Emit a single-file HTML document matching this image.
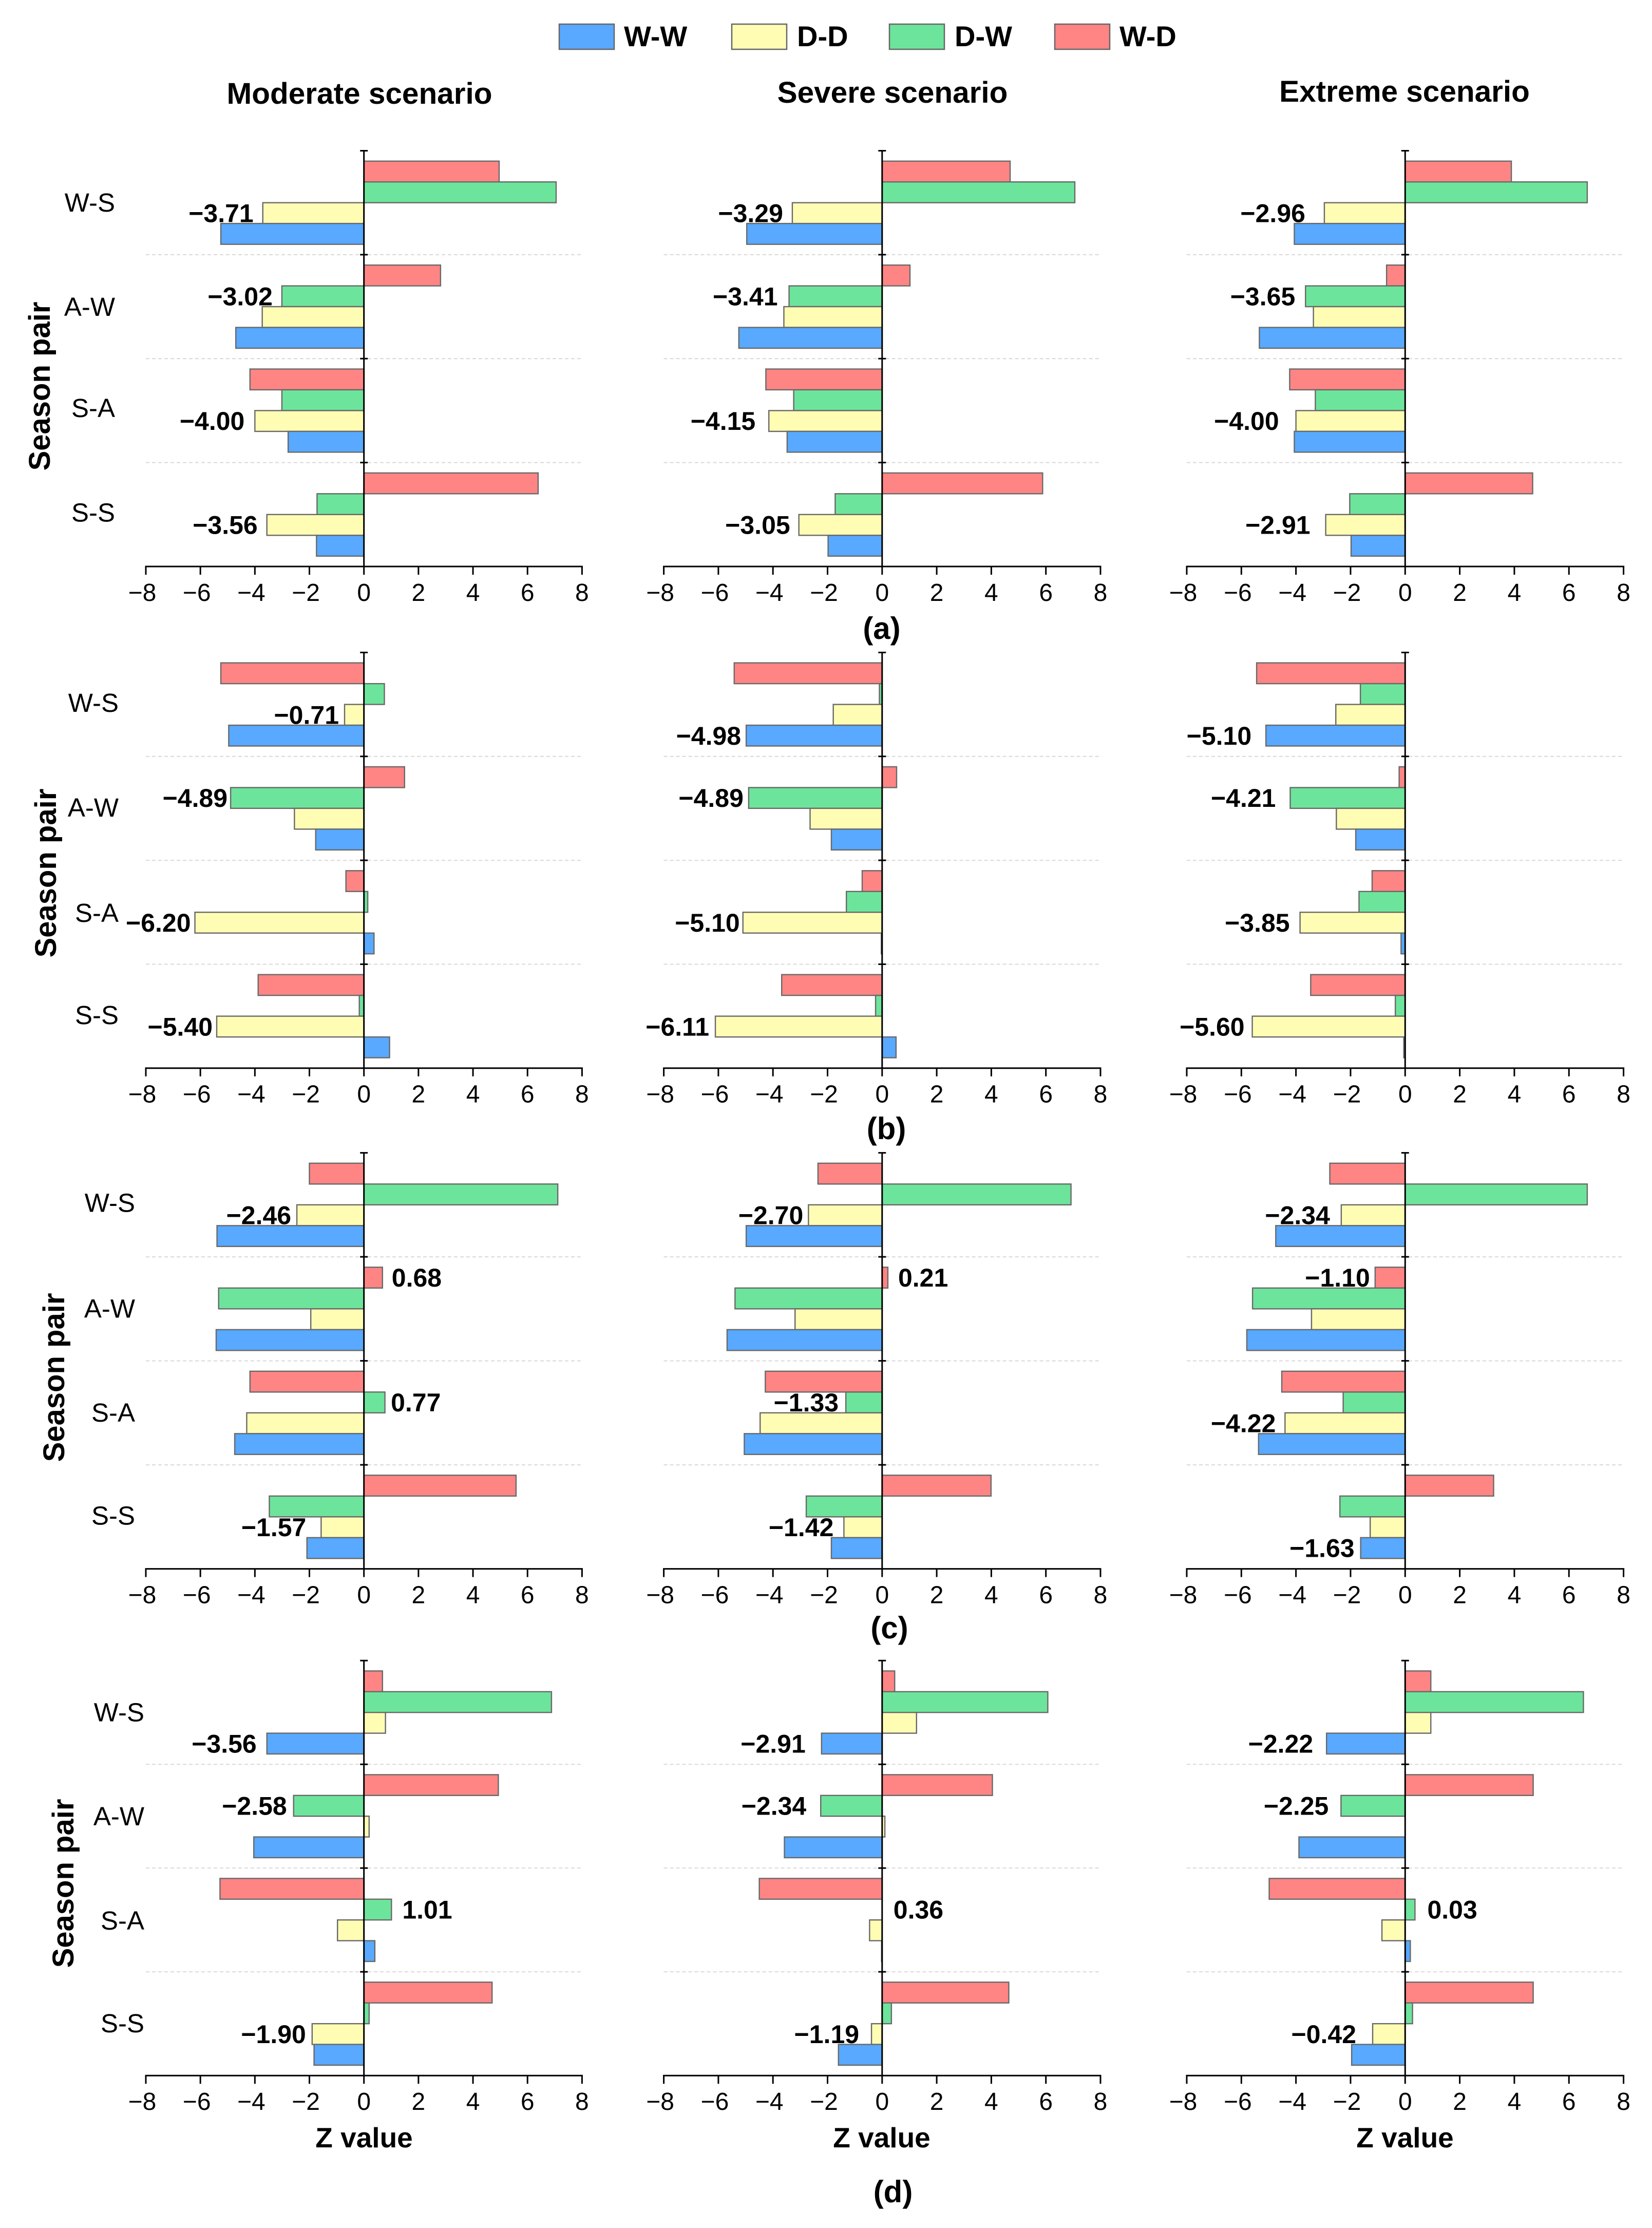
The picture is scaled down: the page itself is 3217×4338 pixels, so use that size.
<!DOCTYPE html>
<html lang="en">
<head>
<meta charset="utf-8">
<title>Z value by season pair and scenario</title>
<style>
html,body{margin:0;padding:0;background:#fff}
svg{display:block}
text{font-family:"Liberation Sans",sans-serif;fill:#000}
.b{font-weight:bold}
</style>
</head>
<body>
<svg id="figure" xmlns="http://www.w3.org/2000/svg" width="3217" height="4338" viewBox="0 0 3217 4338">
  <rect x="0" y="0" width="3217" height="4338" fill="#fff"/>
  <g>
    <rect x="1089" y="47" width="107" height="49" fill="#58A9FF" stroke="#666" stroke-width="2.5"/>
    <text class="b" x="1215" y="90" font-size="56">W-W</text>
    <rect x="1425" y="47" width="107" height="49" fill="#FFFDB4" stroke="#666" stroke-width="2.5"/>
    <text class="b" x="1552" y="90" font-size="56">D-D</text>
    <rect x="1732" y="47" width="107" height="49" fill="#6DE49B" stroke="#666" stroke-width="2.5"/>
    <text class="b" x="1859" y="90" font-size="56">D-W</text>
    <rect x="2054" y="47" width="107" height="49" fill="#FF8585" stroke="#666" stroke-width="2.5"/>
    <text class="b" x="2180" y="90" font-size="56">W-D</text>
  </g>
  <text class="b" x="700" y="202" font-size="58.5" text-anchor="middle">Moderate scenario</text>
  <text class="b" x="1738" y="200" font-size="58.5" text-anchor="middle">Severe scenario</text>
  <text class="b" x="2735" y="198" font-size="58.5" text-anchor="middle">Extreme scenario</text>

  <text class="b" x="1717" y="1244" font-size="60" text-anchor="middle">(a)</text>
  <text class="b" x="1726" y="2218" font-size="60" text-anchor="middle">(b)</text>
  <text class="b" x="1732" y="3190" font-size="60" text-anchor="middle">(c)</text>
  <text class="b" x="1739" y="4288" font-size="60" text-anchor="middle">(d)</text>

  <text class="b" font-size="58" text-anchor="middle" transform="translate(97 752) rotate(-90)">Season pair</text>
  <text class="b" font-size="58" text-anchor="middle" transform="translate(109 1700) rotate(-90)">Season pair</text>
  <text class="b" font-size="58" text-anchor="middle" transform="translate(125 2682) rotate(-90)">Season pair</text>
  <text class="b" font-size="58" text-anchor="middle" transform="translate(143 3667) rotate(-90)">Season pair</text>

  <text class="b" x="709" y="4181" font-size="55" text-anchor="middle">Z value</text>
  <text class="b" x="1717" y="4181" font-size="55" text-anchor="middle">Z value</text>
  <text class="b" x="2736" y="4181" font-size="55" text-anchor="middle">Z value</text>
</svg>
<script>
// ---- shared categories and ticks ----
const categories = ['W-S', 'A-W', 'S-A', 'S-S'];
const seriesOrder = ['WD', 'DW', 'DD', 'WW'];
const xTicks = [-8, -6, -4, -2, 0, 2, 4, 6, 8];
const xTickLabels = ['\u22128', '\u22126', '\u22124', '\u22122', '0', '2', '4', '6', '8'];

// ---- panel (a) ----
const a_mod_WD = [4.96, 2.81, -4.18, 6.39];
const a_mod_DW = [7.05, -3.01, -3.01, -1.72];
const a_mod_DD = [-3.71, -3.73, -4.00, -3.56];
const a_mod_WW = [-5.25, -4.70, -2.78, -1.74];
const a_mod_labels = ['\u22123.71', '\u22123.02', '\u22124.00', '\u22123.56'];
const a_mod_labelSeries = ['DD', 'DW', 'DD', 'DD'];

const a_sev_WD = [4.69, 1.02, -4.26, 5.88];
const a_sev_DW = [7.06, -3.41, -3.24, -1.72];
const a_sev_DD = [-3.29, -3.60, -4.15, -3.05];
const a_sev_WW = [-4.96, -5.25, -3.48, -1.98];
const a_sev_labels = ['\u22123.29', '\u22123.41', '\u22124.15', '\u22123.05'];
const a_sev_labelSeries = ['DD', 'DW', 'DD', 'DD'];

const a_ext_WD = [3.89, -0.68, -4.23, 4.67];
const a_ext_DW = [6.67, -3.65, -3.29, -2.03];
const a_ext_DD = [-2.96, -3.36, -4.00, -2.91];
const a_ext_WW = [-4.06, -5.34, -4.06, -1.98];
const a_ext_labels = ['\u22122.96', '\u22123.65', '\u22124.00', '\u22122.91'];
const a_ext_labelSeries = ['DD', 'DW', 'DD', 'DD'];

// ---- panel (b) ----
const b_mod_WD = [-5.25, 1.49, -0.66, -3.88];
const b_mod_DW = [0.75, -4.89, 0.14, -0.17];
const b_mod_DD = [-0.71, -2.55, -6.20, -5.40];
const b_mod_WW = [-4.96, -1.77, 0.37, 0.94];
const b_mod_labels = ['\u22120.71', '\u22124.89', '\u22126.20', '\u22125.40'];
const b_mod_labelSeries = ['DD', 'DW', 'DD', 'DD'];

const b_sev_WD = [-5.42, 0.53, -0.73, -3.68];
const b_sev_DW = [-0.10, -4.89, -1.31, -0.24];
const b_sev_DD = [-1.79, -2.64, -5.10, -6.11];
const b_sev_WW = [-4.98, -1.86, -0.03, 0.51];
const b_sev_labels = ['\u22124.98', '\u22124.89', '\u22125.10', '\u22126.11'];
const b_sev_labelSeries = ['WW', 'DW', 'DD', 'DD'];

const b_ext_WD = [-5.44, -0.22, -1.21, -3.46];
const b_ext_DW = [-1.64, -4.21, -1.69, -0.36];
const b_ext_DD = [-2.54, -2.52, -3.85, -5.60];
const b_ext_WW = [-5.10, -1.81, -0.15, -0.05];
const b_ext_labels = ['\u22125.10', '\u22124.21', '\u22123.85', '\u22125.60'];
const b_ext_labelSeries = ['WW', 'DW', 'DD', 'DD'];

// ---- panel (c) ----
const c_mod_WD = [-2.00, 0.68, -4.18, 5.58];
const c_mod_DW = [7.11, -5.33, 0.77, -3.47];
const c_mod_DD = [-2.46, -1.95, -4.30, -1.57];
const c_mod_WW = [-5.39, -5.42, -4.74, -2.09];
const c_mod_labels = ['\u22122.46', '0.68', '0.77', '\u22121.57'];
const c_mod_labelSeries = ['DD', 'WD', 'DW', 'DD'];

const c_sev_WD = [-2.35, 0.21, -4.28, 3.99];
const c_sev_DW = [6.92, -5.39, -1.33, -2.78];
const c_sev_DD = [-2.70, -3.19, -4.47, -1.40];
const c_sev_WW = [-4.98, -5.68, -5.05, -1.86];
const c_sev_labels = ['\u22122.70', '0.21', '\u22121.33', '\u22121.42'];
const c_sev_labelSeries = ['DD', 'WD', 'DW', 'DD'];

const c_ext_WD = [-2.76, -1.10, -4.52, 3.24];
const c_ext_DW = [6.67, -5.59, -2.27, -2.39];
const c_ext_DD = [-2.34, -3.43, -4.40, -1.28];
const c_ext_WW = [-4.74, -5.80, -5.37, -1.63];
const c_ext_labels = ['\u22122.34', '\u22121.10', '\u22124.22', '\u22121.63'];
const c_ext_labelSeries = ['DD', 'WD', 'DD', 'WW'];

// ---- panel (d) ----
const d_mod_WD = [0.68, 4.93, -5.28, 4.70];
const d_mod_DW = [6.88, -2.58, 1.01, 0.19];
const d_mod_DD = [0.79, 0.19, -0.97, -1.90];
const d_mod_WW = [-3.56, -4.04, 0.40, -1.83];
const d_mod_labels = ['\u22123.56', '\u22122.58', '1.01', '\u22121.90'];
const d_mod_labelSeries = ['WW', 'DW', 'DW', 'DD'];

const d_sev_WD = [0.46, 4.04, -4.50, 4.64];
const d_sev_DW = [6.07, -2.25, 0.00, 0.34];
const d_sev_DD = [1.26, 0.10, -0.46, -0.39];
const d_sev_WW = [-2.22, -3.58, -0.02, -1.60];
const d_sev_labels = ['\u22122.91', '\u22122.34', '0.36', '\u22121.19'];
const d_sev_labelSeries = ['WW', 'DW', 'DW', 'DD'];

const d_ext_WD = [0.94, 4.69, -4.98, 4.69];
const d_ext_DW = [6.53, -2.35, 0.36, 0.27];
const d_ext_DD = [0.94, 0.00, -0.85, -1.19];
const d_ext_WW = [-2.88, -3.89, 0.19, -1.96];
const d_ext_labels = ['\u22122.22', '\u22122.25', '0.03', '\u22120.42'];
const d_ext_labelSeries = ['WW', 'DW', 'DW', 'DD'];

// ---- layout (not data) ----
const SVGNS = 'http://www.w3.org/2000/svg';
const fills = { WD: '#FF8585', DW: '#6DE49B', DD: '#FFFDB4', WW: '#58A9FF' };
const columns = {
  mod: { left: 284, right: 1133.4 },
  sev: { left: 1292.6, right: 2143 },
  ext: { left: 2311, right: 3161.6 }
};
const rowsLayout = {
  a: { top: 293.5, bottom: 1103, catRight: 224, catY: [394, 597, 794, 997.5] },
  b: { top: 1270.4, bottom: 2079.7, catRight: 231, catY: [1368, 1572, 1777, 1976] },
  c: { top: 2244.6, bottom: 3054.6, catRight: 263, catY: [2341.6, 2547.6, 2750, 2950.6] },
  d: { top: 3233.2, bottom: 4041.2, catRight: 281, catY: [3333.6, 3536, 3739, 3939] }
};
const panels = [
  { row: 'a', col: 'mod', WD: a_mod_WD, DW: a_mod_DW, DD: a_mod_DD, WW: a_mod_WW, labels: a_mod_labels, labelSeries: a_mod_labelSeries, gap: [18, 18, 20, 18] },
  { row: 'a', col: 'sev', WD: a_sev_WD, DW: a_sev_DW, DD: a_sev_DD, WW: a_sev_WW, labels: a_sev_labels, labelSeries: a_sev_labelSeries, gap: [18, 22, 26, 17] },
  { row: 'a', col: 'ext', WD: a_ext_WD, DW: a_ext_DW, DD: a_ext_DD, WW: a_ext_WW, labels: a_ext_labels, labelSeries: a_ext_labelSeries, gap: [37, 20, 33, 30] },
  { row: 'b', col: 'mod', WD: b_mod_WD, DW: b_mod_DW, DD: b_mod_DD, WW: b_mod_WW, labels: b_mod_labels, labelSeries: b_mod_labelSeries, gap: [11, 6, 8, 8] },
  { row: 'b', col: 'sev', WD: b_sev_WD, DW: b_sev_DW, DD: b_sev_DD, WW: b_sev_WW, labels: b_sev_labels, labelSeries: b_sev_labelSeries, gap: [10, 10, 6, 12] },
  { row: 'b', col: 'ext', WD: b_ext_WD, DW: b_ext_DW, DD: b_ext_DD, WW: b_ext_WW, labels: b_ext_labels, labelSeries: b_ext_labelSeries, gap: [28, 28, 20, 15] },
  { row: 'c', col: 'mod', WD: c_mod_WD, DW: c_mod_DW, DD: c_mod_DD, WW: c_mod_WW, labels: c_mod_labels, labelSeries: c_mod_labelSeries, gap: [11, 18, 11.5, 29] },
  { row: 'c', col: 'sev', WD: c_sev_WD, DW: c_sev_DW, DD: c_sev_DD, WW: c_sev_WW, labels: c_sev_labels, labelSeries: c_sev_labelSeries, gap: [10, 20, 14, 20] },
  { row: 'c', col: 'ext', WD: c_ext_WD, DW: c_ext_DW, DD: c_ext_DD, WW: c_ext_WW, labels: c_ext_labels, labelSeries: c_ext_labelSeries, gap: [22, 10, 18, 12] },
  { row: 'd', col: 'mod', WD: d_mod_WD, DW: d_mod_DW, DD: d_mod_DD, WW: d_mod_WW, labels: d_mod_labels, labelSeries: d_mod_labelSeries, gap: [20, 13, 21, 12] },
  { row: 'd', col: 'sev', WD: d_sev_WD, DW: d_sev_DW, DD: d_sev_DD, WW: d_sev_WW, labels: d_sev_labels, labelSeries: d_sev_labelSeries, gap: [31, 28, 22, 24] },
  { row: 'd', col: 'ext', WD: d_ext_WD, DW: d_ext_DW, DD: d_ext_DD, WW: d_ext_WW, labels: d_ext_labels, labelSeries: d_ext_labelSeries, gap: [26, 24, 24, 32] }
];

const figure = document.getElementById('figure');

function make(parent, tag, attrs, text) {
  const node = document.createElementNS(SVGNS, tag);
  for (const key in attrs) node.setAttribute(key, attrs[key]);
  if (text !== undefined) node.textContent = text;
  parent.appendChild(node);
  return node;
}
function slug(s) { return String(s).toLowerCase().replace(/[^a-z0-9]+/g, '-'); }

panels.forEach(function (p) {
  const R = rowsLayout[p.row];
  const C = columns[p.col];
  const id = p.row + '-' + p.col;
  const xScale = function (v) { return C.left + (v + 8) / 16 * (C.right - C.left); };
  const band = (R.bottom - R.top) / categories.length;
  const barH = band * 0.2;
  const yBand = function (i) { return R.top + band * i; };
  const x0 = xScale(0);

  const g = make(figure, 'g', {});
  
  

  // separators
  for (let i = 1; i < categories.length; i++) {
    const sep = make(g, 'line', { x1: C.left, x2: C.right, y1: yBand(i), y2: yBand(i), stroke: '#dcdcdc', 'stroke-width': 2.2, 'stroke-dasharray': '7 5' });
    
    
  }

  // bars
  categories.forEach(function (cat, i) {
    seriesOrder.forEach(function (s, j) {
      const v = p[s][i];
      const y = yBand(i) + band * 0.1 + barH * j;
      const bar = make(g, 'rect', {
        x: Math.min(xScale(v), x0), y: y,
        width: Math.abs(xScale(v) - x0), height: barH,
        fill: fills[s], stroke: '#696969', 'stroke-width': 2.4
      });
      
      
    });
  });

  // y axis with category ticks
  const yAxis = make(g, 'line', { x1: x0, x2: x0, y1: R.top, y2: R.bottom, stroke: '#000', 'stroke-width': 3 });
  
  
  for (let i = 0; i < categories.length; i++) {
    const tick = make(g, 'line', { x1: x0 - 7.5, x2: x0 + 7.5, y1: yBand(i), y2: yBand(i), stroke: '#000', 'stroke-width': 3 });
    
    
  }

  // x axis
  const xAxis = make(g, 'line', { x1: C.left - 1.5, x2: C.right + 1.5, y1: R.bottom, y2: R.bottom, stroke: '#000', 'stroke-width': 3 });
  
  
  xTicks.forEach(function (t, k) {
    const tick = make(g, 'line', { x1: xScale(t), x2: xScale(t), y1: R.bottom, y2: R.bottom + 16, stroke: '#000', 'stroke-width': 3 });
    
    
    const lab = make(g, 'text', { x: xScale(t) - (t < 0 ? 7 : 0), y: R.bottom + 67, 'font-size': 48, 'text-anchor': 'middle' }, xTickLabels[k]);
    
    
  });

  // category labels, first column only
  if (p.col === 'mod') {
    categories.forEach(function (cat, i) {
      const lab = make(g, 'text', { x: R.catRight, y: R.catY[i] + 18, 'font-size': 51, 'text-anchor': 'end' }, cat);
      
      
    });
  }

  // printed value labels attached to the annotated bar
  p.labels.forEach(function (txt, i) {
    const s = p.labelSeries[i];
    const j = seriesOrder.indexOf(s);
    const v = p[s][i];
    const yc = yBand(i) + band * 0.1 + barH * (j + 0.5);
    const positive = txt.charAt(0) !== '\u2212';
    const lx = positive ? Math.max(xScale(v), x0) + p.gap[i] : Math.min(xScale(v), x0) - p.gap[i];
    const lab = make(g, 'text', { class: 'b', x: lx, y: yc + 17.5, 'font-size': 50, 'text-anchor': positive ? 'start' : 'end' }, txt);
    
    
  });
});
</script>
</body>
</html>
